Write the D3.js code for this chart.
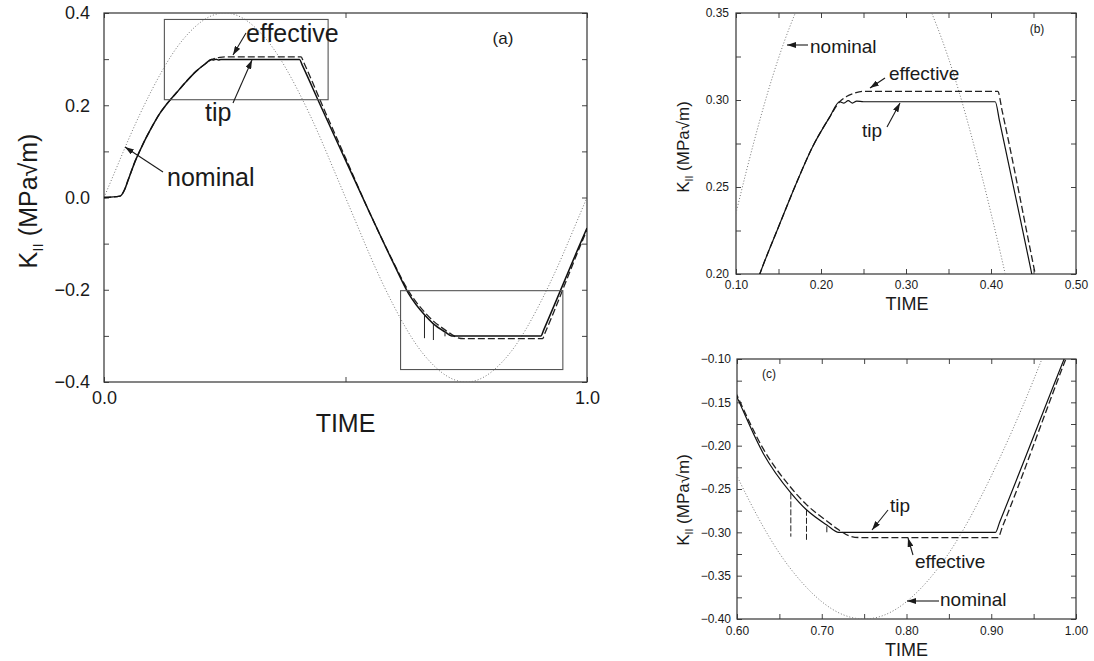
<!DOCTYPE html>
<html lang="en">
<head>
<meta charset="UTF-8">
<title>K_II vs TIME</title>
<style>
    body {
        margin: 0;
        background: #ffffff;
        font-family: "Liberation Sans", Arial, Helvetica, sans-serif;
    }
    svg text {
        fill: #1a1a1a;
    }
</style>
</head>
<body>
<script src="https://d3js.org/d3.v7.min.js"></script>
<script>
// nominal K_II (dotted)
const nominalTime = [0, 0.025, 0.05, 0.075, 0.10, 0.125, 0.15, 0.175, 0.20, 0.225, 0.25, 0.275, 0.30, 0.325, 0.35, 0.375, 0.40, 0.425, 0.45, 0.475, 0.50,
    0.525, 0.55, 0.575, 0.60, 0.625, 0.65, 0.675, 0.70, 0.725, 0.75, 0.775, 0.80, 0.825, 0.85, 0.875, 0.90, 0.925, 0.95, 0.975, 1.0];
const nominalK = [0, 0.062, 0.124, 0.182, 0.235, 0.283, 0.324, 0.356, 0.380, 0.395, 0.400, 0.395, 0.380, 0.356, 0.324, 0.283, 0.235, 0.182, 0.124, 0.062, 0,
    -0.062, -0.124, -0.182, -0.235, -0.283, -0.324, -0.356, -0.380, -0.395, -0.400, -0.395, -0.380, -0.356, -0.324, -0.283, -0.235, -0.182, -0.124, -0.062, 0];

// tip K_II (solid)
const tipTime = [0, 0.033, 0.043, 0.05, 0.057, 0.065, 0.075, 0.085, 0.095, 0.105, 0.116, 0.128, 0.15, 0.17, 0.19, 0.21, 0.222, 0.227, 0.232, 0.237, 0.242, 0.25,
    0.405, 0.41, 0.448, 0.50, 0.55, 0.60, 0.631, 0.664, 0.682, 0.706, 0.72, 0.905, 0.91, 0.986, 1.0];
const tipK = [0, 0.003, 0.018, 0.038, 0.058, 0.080, 0.103, 0.125, 0.145, 0.164, 0.183, 0.200, 0.227, 0.251, 0.273, 0.290, 0.299, 0.2982, 0.2996, 0.2982, 0.2994, 0.299,
    0.299, 0.288, 0.200, 0.081, -0.033, -0.144, -0.209, -0.255, -0.274, -0.2915, -0.300, -0.300, -0.288, -0.100, -0.066];

// effective K_II (dashed)
const effTime = [0, 0.033, 0.043, 0.05, 0.057, 0.065, 0.075, 0.085, 0.095, 0.105, 0.116, 0.128, 0.15, 0.17, 0.19, 0.21, 0.222, 0.23, 0.24, 0.25,
    0.408, 0.413, 0.452, 0.50, 0.55, 0.60, 0.63, 0.665, 0.682, 0.706, 0.72, 0.732, 0.745, 0.908, 0.913, 0.988, 1.0];
const effK = [0, 0.003, 0.018, 0.038, 0.058, 0.080, 0.103, 0.125, 0.145, 0.164, 0.183, 0.200, 0.227, 0.251, 0.273, 0.290, 0.299, 0.302, 0.304, 0.305,
    0.305, 0.294, 0.200, 0.086, -0.033, -0.142, -0.202, -0.250, -0.268, -0.287, -0.297, -0.304, -0.306, -0.306, -0.294, -0.100, -0.070];

// short vertical jumps in the effective curve
const jumpTime = [0.6635, 0.682, 0.706];
const jumpTop = [-0.255, -0.274, -0.293];
const jumpBottom = [-0.305, -0.309, -0.301];

// zoom windows drawn on panel (a): [tMin, tMax, kMin, kMax]
const zoomWindowB = [0.125, 0.464, 0.212, 0.386];
const zoomWindowC = [0.614, 0.950, -0.373, -0.202];

// tick labels
const aXTicks = [0.0, 1.0];
const aYTicks = [0.4, 0.2, 0.0, -0.2, -0.4];
const bXTicks = [0.10, 0.20, 0.30, 0.40, 0.50];
const bYTicks = [0.20, 0.25, 0.30, 0.35];
const cXTicks = [0.60, 0.70, 0.80, 0.90, 1.00];
const cYTicks = [-0.40, -0.35, -0.30, -0.25, -0.20, -0.15, -0.10];

const svg = d3.select("body").append("svg")
    .attr("width", 1094)
    .attr("height", 661);

const defs = svg.append("defs");
defs.append("marker")
    .attr("id", "arrow")
    .attr("markerUnits", "userSpaceOnUse")
    .attr("markerWidth", 9)
    .attr("markerHeight", 6)
    .attr("refX", 9)
    .attr("refY", 3)
    .attr("orient", "auto")
    .append("path")
    .attr("d", "M0,0L9,3L0,6Z")
    .attr("fill", "#1a1a1a");

const zip = (ts, ks) => ts.map((t, i) => [t, ks[i]]);
const isMajor = (list, d) => list.some(v => Math.abs(v - d) < 1e-9);

function drawPanel(p) {
    const x = d3.scaleLinear().domain(p.xDomain).range([p.left, p.right]);
    const y = d3.scaleLinear().domain(p.yDomain).range([p.bottom, p.top]);
    const g = svg.append("g");

    defs.append("clipPath").attr("id", "clip-" + p.id)
        .append("rect")
        .attr("x", p.left).attr("y", p.top)
        .attr("width", p.right - p.left).attr("height", p.bottom - p.top);

    // axes: labelled left/bottom, bare ticks right/top
    const fmtY = d3.format(p.yFmt), fmtX = d3.format(p.xFmt);
    const yAxis = d3.axisLeft(y).tickValues(p.yMinor).tickSize(-5).tickPadding(p.yPad)
        .tickFormat(d => isMajor(p.yTicks, d) ? fmtY(d) : "");
    const xAxis = d3.axisBottom(x).tickValues(p.xMinor).tickSize(-5).tickPadding(p.xPad)
        .tickFormat(d => isMajor(p.xTicks, d) ? fmtX(d) : "");

    const axes = [
        g.append("g").attr("transform", `translate(${p.left},0)`).call(yAxis),
        g.append("g").attr("transform", `translate(0,${p.bottom})`).call(xAxis),
        g.append("g").attr("transform", `translate(${p.right},0)`)
            .call(d3.axisRight(y).tickValues(p.yMinor).tickSize(-5).tickFormat("")),
        g.append("g").attr("transform", `translate(0,${p.top})`)
            .call(d3.axisTop(x).tickValues(p.xMinor).tickSize(-5).tickFormat(""))
    ];
    axes.forEach(a => {
        a.select(".domain").remove();
        a.selectAll(".tick line").attr("stroke", "#444");
        a.selectAll("text")
            .attr("font-family", "'Liberation Sans', Arial, sans-serif")
            .attr("font-size", p.tickFont)
            .attr("fill", "#1a1a1a");
    });

    g.append("rect")
        .attr("x", p.left).attr("y", p.top)
        .attr("width", p.right - p.left).attr("height", p.bottom - p.top)
        .attr("fill", "none").attr("stroke", "#333").attr("stroke-width", 1.2);

    const plot = g.append("g").attr("clip-path", `url(#clip-${p.id})`);
    const line = d3.line().x(d => x(d[0])).y(d => y(d[1]));

    plot.append("path")
        .datum(zip(nominalTime, nominalK))
        .attr("d", line.curve(d3.curveNatural))
        .attr("fill", "none").attr("stroke", "#777")
        .attr("stroke-width", 1).attr("stroke-dasharray", "1,2");

    plot.append("path")
        .datum(zip(effTime, effK))
        .attr("d", line.curve(d3.curveMonotoneX))
        .attr("fill", "none").attr("stroke", "#222")
        .attr("stroke-width", 1.3).attr("stroke-dasharray", "7,3");

    plot.append("path")
        .datum(zip(tipTime, tipK))
        .attr("d", line.curve(d3.curveMonotoneX))
        .attr("fill", "none").attr("stroke", "#111")
        .attr("stroke-width", p.lineWidth);

    plot.selectAll("line.jump")
        .data(jumpTime)
        .join("line")
        .attr("class", "jump")
        .attr("x1", d => x(d)).attr("x2", d => x(d))
        .attr("y1", (d, i) => y(jumpTop[i])).attr("y2", (d, i) => y(jumpBottom[i]))
        .attr("stroke", "#222").attr("stroke-width", 1)
        .attr("stroke-dasharray", p.id === "a" ? null : "6,2");

    (p.windows || []).forEach(w => {
        plot.append("rect")
            .attr("x", x(w[0])).attr("y", y(w[3]))
            .attr("width", x(w[1]) - x(w[0])).attr("height", y(w[2]) - y(w[3]))
            .attr("fill", "none").attr("stroke", "#555").attr("stroke-width", 1.1);
    });

    // axis titles
    g.append("text")
        .attr("x", (p.left + p.right) / 2 + p.timeDx).attr("y", p.timeY)
        .attr("text-anchor", "middle").attr("font-size", p.titleFont)
        .text("TIME");

    const yl = g.append("text")
        .attr("transform", `translate(${p.yLabelX},${p.yLabelY}) rotate(-90)`)
        .attr("text-anchor", "middle").attr("font-size", p.yTitleFont);
    yl.append("tspan").text("K");
    yl.append("tspan").attr("font-size", p.yTitleFont * 0.62).attr("dy", p.yTitleFont * 0.22).text("II");
    yl.append("tspan").attr("dy", -p.yTitleFont * 0.22).text(" (MPa\u221Am)");

    g.append("text")
        .attr("x", p.tag[0]).attr("y", p.tag[1])
        .attr("text-anchor", "middle").attr("font-size", p.tagFont)
        .text(p.tag[2]);

    p.notes.forEach(n => {
        g.append("text")
            .attr("x", n.tx).attr("y", n.ty)
            .attr("font-size", p.noteFont)
            .text(n.text);
        g.append("line")
            .attr("x1", n.a[0]).attr("y1", n.a[1])
            .attr("x2", n.a[2]).attr("y2", n.a[3])
            .attr("stroke", "#1a1a1a").attr("stroke-width", 1.1)
            .attr("marker-end", "url(#arrow)");
    });
}

drawPanel({
    id: "a", left: 104, right: 587, top: 13, bottom: 382,
    xDomain: [0, 1], yDomain: [-0.4, 0.4],
    xTicks: aXTicks, yTicks: aYTicks,
    xMinor: [0, 0.5, 1], yMinor: d3.range(-4, 5).map(v => v / 10),
    xFmt: ".1f", yFmt: ".1f", xPad: 9, yPad: 14,
    tickFont: 18, titleFont: 25, yTitleFont: 25, noteFont: 25, tagFont: 17, lineWidth: 1.5,
    timeDx: 0, timeY: 432, yLabelX: 37, yLabelY: 201,
    tag: [503, 44, "(a)"],
    windows: [zoomWindowB, zoomWindowC],
    notes: [
        { text: "effective", tx: 246, ty: 42, a: [246, 33, 233, 55] },
        { text: "tip", tx: 205, ty: 121, a: [233, 103, 252, 60] },
        { text: "nominal", tx: 167, ty: 186, a: [163, 172, 125, 147] }
    ]
});

drawPanel({
    id: "b", left: 736, right: 1076, top: 13, bottom: 274,
    xDomain: [0.10, 0.50], yDomain: [0.20, 0.35],
    xTicks: bXTicks, yTicks: bYTicks,
    xMinor: d3.range(2, 11).map(v => v / 20), yMinor: d3.range(8, 15).map(v => v / 40),
    xFmt: ".2f", yFmt: ".2f", xPad: 6, yPad: 7,
    tickFont: 12, titleFont: 18, yTitleFont: 17, noteFont: 19, tagFont: 12, lineWidth: 1.2,
    timeDx: 1, timeY: 310, yLabelX: 689, yLabelY: 147,
    tag: [1037, 33, "(b)"],
    notes: [
        { text: "nominal", tx: 810, ty: 53, a: [808, 45, 787, 45] },
        { text: "effective", tx: 889, ty: 80, a: [885, 78, 870, 88] },
        { text: "tip", tx: 862, ty: 137, a: [887, 127, 900, 103] }
    ]
});

drawPanel({
    id: "c", left: 737, right: 1076, top: 359, bottom: 619,
    xDomain: [0.60, 1.00], yDomain: [-0.40, -0.10],
    xTicks: cXTicks, yTicks: cYTicks,
    xMinor: d3.range(12, 21).map(v => v / 20), yMinor: d3.range(-16, -3).map(v => v / 40),
    xFmt: ".2f", yFmt: ".2f", xPad: 7, yPad: 6,
    tickFont: 12, titleFont: 18, yTitleFont: 17, noteFont: 19, tagFont: 12, lineWidth: 1.2,
    timeDx: 0, timeY: 656, yLabelX: 689, yLabelY: 500,
    tag: [769, 378, "(c)"],
    notes: [
        { text: "tip", tx: 890, ty: 512, a: [888, 510, 872, 530] },
        { text: "effective", tx: 915, ty: 568, a: [913, 555, 908, 538] },
        { text: "nominal", tx: 940, ty: 606, a: [939, 601, 907, 601] }
    ]
});
</script>
</body>
</html>
